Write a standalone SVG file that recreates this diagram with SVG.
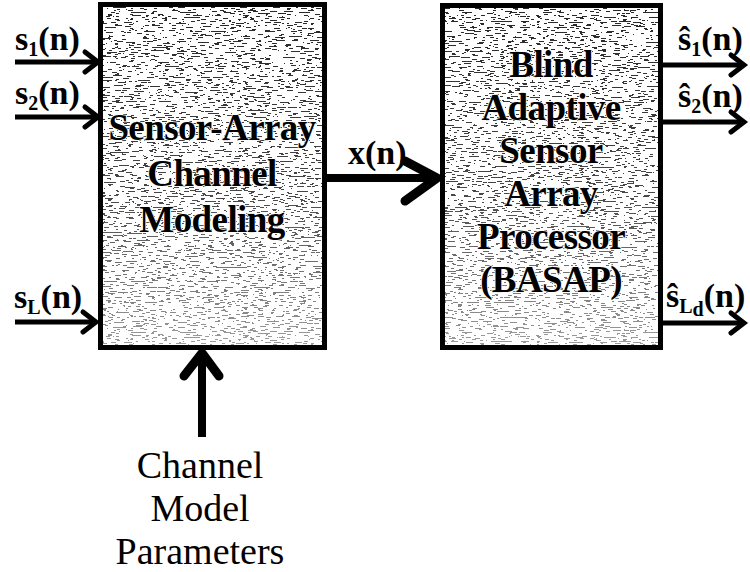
<svg xmlns="http://www.w3.org/2000/svg" width="750" height="572" viewBox="0 0 750 572">
<style>
.box{fill:none;stroke:#000;stroke-width:5}
.tex{fill:#fff;filter:url(#speckle)}
.btxt{font-family:"Liberation Serif","Times New Roman",serif;font-weight:bold;font-size:37px;text-anchor:middle;fill:#000;stroke:#fff;stroke-width:1.5px;paint-order:stroke;letter-spacing:-0.6px}
.lbl{font-family:"Liberation Serif","Times New Roman",serif;font-weight:bold;font-size:34px;fill:#000}
.sub{font-size:20px}
.par{font-family:"Liberation Serif","Times New Roman",serif;font-size:38px;text-anchor:middle;fill:#000}
.thin{stroke:#000;stroke-width:5;fill:none;marker-end:url(#ah)}
.thick{stroke:#000;stroke-width:8;fill:none}
.head{stroke:#000;stroke-width:9;fill:none;stroke-linecap:round;stroke-linejoin:round}
</style>
<defs>
<filter id="speckle" x="0" y="0" width="1" height="1" color-interpolation-filters="sRGB">
<feTurbulence type="fractalNoise" baseFrequency="0.14 0.8" numOctaves="2" seed="7" result="noise"/>
<feColorMatrix in="noise" type="matrix" values="0 0 0 0 0  0 0 0 0 0  0 0 0 0 0  -2.2 0 0 0 1.35" result="a"/>
<feComponentTransfer in="a" result="specks"><feFuncA type="discrete" tableValues="0 0 0 0 0.85 0.85 0.85 0.85"/></feComponentTransfer>
<feFlood flood-color="#fff" result="w"/>
<feMerge><feMergeNode in="w"/><feMergeNode in="specks"/></feMerge>
</filter>
<linearGradient id="fade" x1="0" y1="0" x2="0" y2="1">
<stop offset="0" stop-color="#fff" stop-opacity="0"/>
<stop offset="0.55" stop-color="#fff" stop-opacity="0.15"/>
<stop offset="1" stop-color="#fff" stop-opacity="0.55"/>
</linearGradient>
<marker id="ah" markerUnits="userSpaceOnUse" viewBox="-16 -12 20 24" refX="0" refY="0" markerWidth="20" markerHeight="24" orient="auto" overflow="visible">
<path d="M-13 -10 L0 0 L-13 10" fill="none" stroke="#000" stroke-width="5" stroke-linejoin="miter" stroke-linecap="round"/>
</marker>
</defs>

<g id="node-channel">
<rect class="tex" x="100.5" y="4.5" width="224" height="343"/>
<rect fill="url(#fade)" x="100.5" y="4.5" width="224" height="343"/>
<rect class="box" x="100.5" y="4.5" width="224" height="343"/>
<text class="btxt" x="212" y="140">Sensor-Array</text>
<text class="btxt" x="212" y="186">Channel</text>
<text class="btxt" x="212" y="232">Modeling</text>
</g>

<g id="node-basap">
<rect class="tex" x="442.5" y="5.5" width="218" height="342"/>
<rect fill="url(#fade)" x="442.5" y="5.5" width="218" height="342"/>
<rect class="box" x="442.5" y="5.5" width="218" height="342"/>
<text class="btxt" x="551" y="77">Blind</text>
<text class="btxt" x="551" y="120">Adaptive</text>
<text class="btxt" x="551" y="163">Sensor</text>
<text class="btxt" x="551" y="206">Array</text>
<text class="btxt" x="551" y="249">Processor</text>
<text class="btxt" x="551" y="292">(BASAP)</text>
</g>

<g id="node-params">
<text class="par" x="200" y="478">Channel</text>
<text class="par" x="200" y="521">Model</text>
<text class="par" x="200" y="564">Parameters</text>
</g>

<g id="inputs">
<text class="lbl" x="15" y="50">s<tspan class="sub" dy="6">1</tspan><tspan dy="-6">(n)</tspan></text>
<text class="lbl" x="15" y="104">s<tspan class="sub" dy="6">2</tspan><tspan dy="-6">(n)</tspan></text>
<text class="lbl" x="14" y="308">s<tspan class="sub" dy="6">L</tspan><tspan dy="-6">(n)</tspan></text>
</g>

<g id="signal-x">
<text class="lbl" x="348" y="164" font-size="36">x(n)</text>
</g>

<g id="outputs">
<text class="lbl" x="678" y="50">ŝ<tspan class="sub" dy="6">1</tspan><tspan dy="-6">(n)</tspan></text>
<text class="lbl" x="678" y="107">ŝ<tspan class="sub" dy="6">2</tspan><tspan dy="-6">(n)</tspan></text>
<text class="lbl" x="666" y="307">ŝ<tspan class="sub" dy="6">L</tspan><tspan class="sub" dy="3" font-size="13">d</tspan><tspan dy="-9">(n)</tspan></text>
</g>

<g id="connectors">
<line class="thin" x1="15" y1="62" x2="98" y2="62"/>
<line class="thin" x1="15" y1="117" x2="98" y2="117"/>
<line class="thin" x1="15" y1="322" x2="96" y2="322"/>
<line class="thin" x1="663" y1="65" x2="744" y2="65"/>
<line class="thin" x1="663" y1="122" x2="744" y2="122"/>
<line class="thin" x1="663" y1="323" x2="744" y2="323"/>
<line class="thick" x1="327" y1="178" x2="436" y2="178"/>
<path class="head" d="M405 161 L437 178 L405 201"/>
<line class="thick" x1="202" y1="437" x2="202" y2="354"/>
<path class="head" d="M184 376 L202 353 L219 376"/>
</g>
</svg>
